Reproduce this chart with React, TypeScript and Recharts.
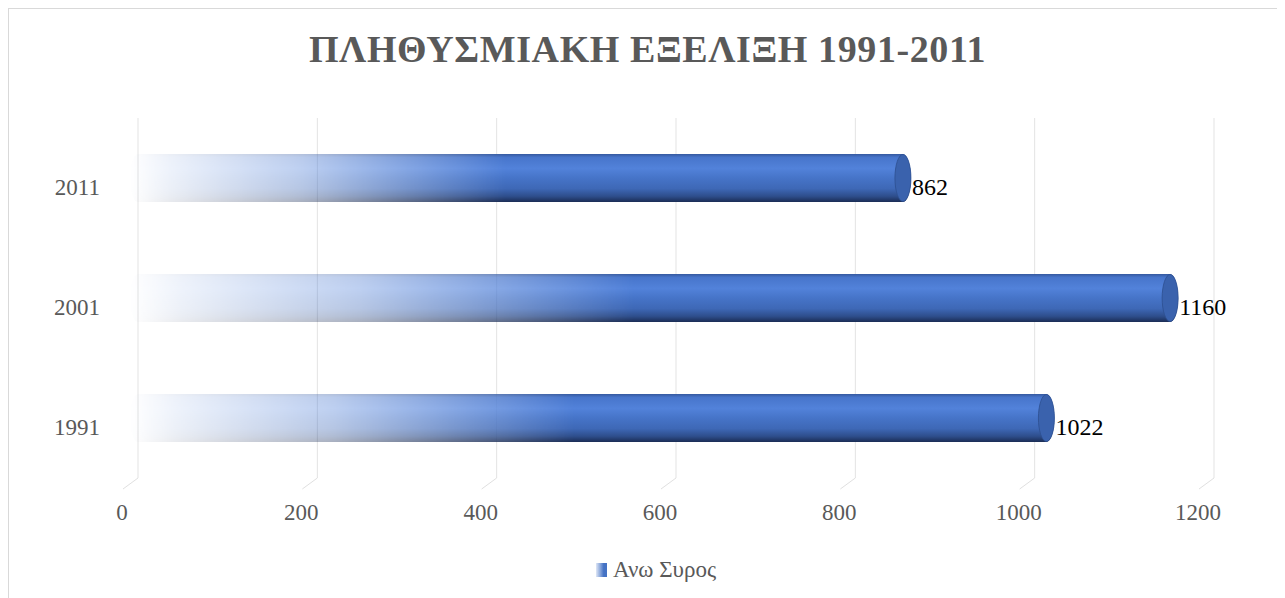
import { Bar, BarChart, CartesianGrid, LabelList, Legend, XAxis, YAxis } from "recharts";

// categories and values
const years = ["1991", "2001", "2011"];
const population = [1022, 1160, 862];
const xTicks = [0, 200, 400, 600, 800, 1000, 1200];
const seriesName = "Ανω Συρος";

const data = years.map((year, i) => ({ year, value: population[i] }));

const FONT = '"Liberation Serif", "Times New Roman", serif';
const GREY = "#595959";

// cylinder bar: fades in from the left, dark cap on the right
function CylinderBar(props: any) {
  const { x, y, width, height, index } = props;
  if (!width || width <= 0) return null;
  const rx = 8;
  const ry = height / 2;
  const id = `cyl-${index}`;
  const body = `M ${x},${y} L ${x + width - rx},${y} A ${rx} ${ry} 0 0 1 ${x + width - rx},${y + height} L ${x},${y + height} A ${rx} ${ry} 0 0 1 ${x},${y} Z`;
  return (
    <g>
      <defs>
        <linearGradient id={`${id}-fade`} gradientUnits="userSpaceOnUse" x1={x - rx} y1={0} x2={x + width} y2={0}>
          <stop offset="0" stopColor="#fff" stopOpacity={0} />
          <stop offset="0.05" stopColor="#fff" stopOpacity={0.1} />
          <stop offset="0.22" stopColor="#fff" stopOpacity={0.38} />
          <stop offset="0.36" stopColor="#fff" stopOpacity={0.72} />
          <stop offset="0.48" stopColor="#fff" stopOpacity={1} />
          <stop offset="1" stopColor="#fff" stopOpacity={1} />
        </linearGradient>
        <mask id={`${id}-mask`} maskUnits="userSpaceOnUse" x={x - rx - 2} y={y - 2} width={width + rx + 4} height={height + 4}>
          <rect x={x - rx - 2} y={y - 2} width={width + rx + 4} height={height + 4} fill={`url(#${id}-fade)`} />
        </mask>
        <linearGradient id={`${id}-shade`} x1="0" y1="0" x2="0" y2="1">
          <stop offset="0" stopColor="#35599f" />
          <stop offset="0.07" stopColor="#4775cb" />
          <stop offset="0.3" stopColor="#5282da" />
          <stop offset="0.5" stopColor="#4674c8" />
          <stop offset="0.72" stopColor="#3e68b6" />
          <stop offset="0.88" stopColor="#2e4e8c" />
          <stop offset="1" stopColor="#1b2d55" />
        </linearGradient>
      </defs>
      <path d={body} fill={`url(#${id}-shade)`} mask={`url(#${id}-mask)`} />
      <ellipse cx={x + width - rx} cy={y + ry} rx={rx} ry={ry - 0.5} fill="#3a62ad" stroke="#2d4f8f" strokeWidth={0.8} />
    </g>
  );
}

function XTick(props: any) {
  const { x, y, payload } = props;
  return (
    <g>
      <line x1={x} y1={y} x2={x - 15} y2={y + 11} stroke="#e0e0e0" strokeWidth={1} />
      <text x={x - 16} y={y + 34} dy="0.35em" textAnchor="middle" fill={GREY} fontSize={23} fontFamily={FONT}>
        {payload.value}
      </text>
    </g>
  );
}

function YTick(props: any) {
  const { x, y, payload } = props;
  return (
    <text x={x - 38} y={y + 9} dy="0.35em" textAnchor="end" fill={GREY} fontSize={23} fontFamily={FONT}>
      {payload.value}
    </text>
  );
}

function ValueLabel(props: any) {
  const { x, y, width, height, value } = props;
  return (
    <text x={x + width + 1} y={y + height / 2 + 9} dy="0.35em" textAnchor="start" fill="#000" fontSize={24} fontFamily={FONT}>
      {value}
    </text>
  );
}

function LegendContent() {
  return (
    <div style={{ height: 28, display: "flex", alignItems: "center", paddingLeft: 587, fontFamily: FONT, fontSize: 23, color: GREY }}>
      <span style={{ display: "inline-block", width: 11, height: 14, marginRight: 6, background: "linear-gradient(to right, #dfe7f6, #4472c4 70%)" }} />
      <span>{seriesName}</span>
    </div>
  );
}

export default function App() {
  return (
    <div style={{ position: "relative", width: 1277, height: 590, borderTop: "1px solid #d9d9d9", borderLeft: "1px solid #d9d9d9", boxSizing: "border-box", background: "#fff" }}>
      <div style={{ position: "absolute", top: 21, left: 0, width: 1277, textAlign: "center", fontFamily: FONT, fontWeight: "bold", fontSize: 38, lineHeight: "38px", letterSpacing: 0.6, color: GREY }}>
        ΠΛΗΘΥΣΜΙΑΚΗ ΕΞΕΛΙΞΗ 1991-2011
      </div>
      <BarChart
        width={1276}
        height={589}
        data={data}
        layout="vertical"
        margin={{ top: 109, right: 71, bottom: 14, left: 19 }}
        barSize={48}
      >
        <CartesianGrid horizontal={false} stroke="#e3e3e3" />
        <XAxis
          type="number"
          domain={[0, 1200]}
          ticks={xTicks}
          axisLine={false}
          tickLine={false}
          tickSize={0}
          tickMargin={0}
          height={78}
          tick={<XTick />}
          interval={0}
        />
        <YAxis
          type="category"
          dataKey="year"
          reversed
          width={110}
          axisLine={false}
          tickLine={false}
          tickSize={0}
          tickMargin={0}
          tick={<YTick />}
        />
        <Legend verticalAlign="bottom" wrapperStyle={{ left: 0, width: 1276 }} content={<LegendContent />} />
        <Bar dataKey="value" name={seriesName} shape={<CylinderBar />} isAnimationActive={false}>
          <LabelList dataKey="value" content={<ValueLabel />} />
        </Bar>
      </BarChart>
    </div>
  );
}
